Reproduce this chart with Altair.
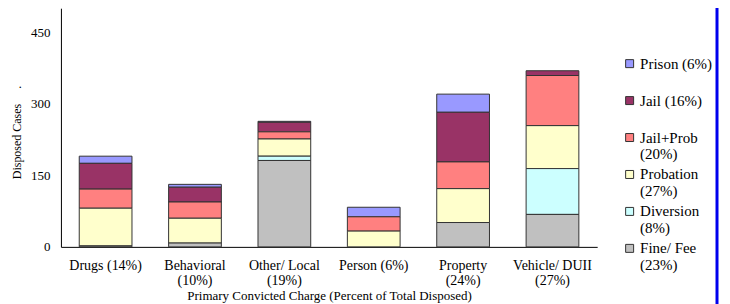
import altair as alt
import pandas as pd

categories = ["Drugs (14%)", "Behavioral (10%)", "Other/ Local (19%)",
              "Person (6%)", "Property (24%)", "Vehicle/ DUII (27%)"]
outcomes = ["Prison (6%)", "Jail (16%)", "Jail+Prob (20%)",
            "Probation (27%)", "Diversion (8%)", "Fine/ Fee (23%)"]
colors = ["#9999FF", "#993366", "#FF8080", "#FFFFCC", "#CCFFFF", "#C0C0C0"]

prison = [15, 6, 2, 20, 38, 0]
jail = [54, 31, 20, 0, 104, 10]
jail_prob = [40, 34, 15, 30, 56, 105]
probation = [79, 52, 36, 33, 71, 90]
diversion = [0, 0, 9, 0, 0, 96]
fine_fee = [2, 8, 181, 0, 51, 68]

y_ticks = [0, 150, 300, 450]

series = [prison, jail, jail_prob, probation, diversion, fine_fee]
rows = []
for oi, (name, vals) in enumerate(zip(outcomes, series)):
    for c, v in zip(categories, vals):
        if v > 0:
            rows.append({"charge": c, "outcome": name, "cases": v,
                         "rank": len(outcomes) - oi})
df = pd.DataFrame(rows)

font = "Times New Roman, Liberation Serif, serif"
wrap_x = "length(datum.label) > 12 ? split(replace(datum.label, ' (', '|('), '|') : datum.label"
wrap_leg = "length(datum.label) > 12 ? split(replace(datum.label, ' (', '|('), '|') : [datum.label, '']"

bars = alt.Chart(df).mark_bar(stroke="#333333", strokeWidth=1).encode(
    x=alt.X("charge:N", sort=categories,
            scale=alt.Scale(paddingInner=0.41, paddingOuter=0.205),
            axis=alt.Axis(title="Primary Convicted Charge (Percent of Total Disposed)",
                          labelAngle=0, ticks=False, labelExpr=wrap_x,
                          labelPadding=12, labelFont=font, titleFont=font,
                          titleBaseline="top", titleY=43,
                          labelFontSize=14, titleFontSize=13,
                          labelLineHeight=15, labelColor="black",
                          titleColor="black", domainColor="black",
                          titleFontWeight="normal")),
    y=alt.Y("cases:Q", stack="zero",
            scale=alt.Scale(domain=[0, 500], nice=False),
            axis=alt.Axis(title="Disposed Cases\u00a0\u00a0\u00a0\u00a0\u00a0.",
                          values=y_ticks, grid=False, ticks=False,
                          labelPadding=11, labelFont=font, titleFont=font,
                          titleX=-44, titleY=124, titleBaseline="middle",
                          labelFontSize=13, titleFontSize=12,
                          labelColor="black", titleColor="black",
                          domainColor="black", titleFontWeight="normal")),
    color=alt.Color("outcome:N",
                    scale=alt.Scale(domain=outcomes, range=colors),
                    legend=alt.Legend(title=None, orient="none",
                                      legendX=562, legendY=48,
                                      symbolType="square", symbolSize=64,
                                      symbolStrokeColor="#333333",
                                      symbolStrokeWidth=1, labelFont=font,
                                      labelFontSize=15, labelOffset=3,
                                      labelExpr=wrap_leg, rowPadding=4,
                                      labelColor="black", labelLimit=200)),
    order=alt.Order("rank:Q", sort="ascending"),
)

border = alt.Chart(alt.Data(values=[{}])).mark_rule(
    color="#0000EE", strokeWidth=3
).encode(x=alt.value(657), y=alt.value(-8), y2=alt.value(300))

chart = alt.layer(bars, border).properties(
    width=537, height=239,
    autosize="none",
    padding={"left": 53, "top": 0, "right": 125, "bottom": 60},
).configure(font=font).configure_view(stroke=None)

chart.save("out.html", embed_options={"renderer": "svg", "actions": False})
